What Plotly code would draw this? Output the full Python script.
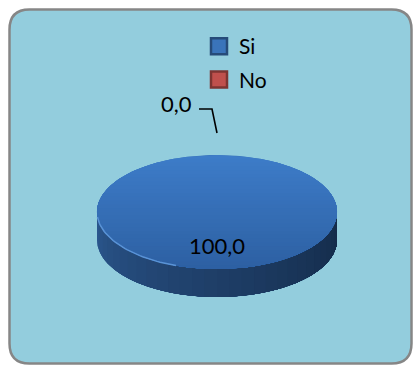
import numpy as np
import plotly.graph_objects as go

# ---- data ----
categories = ["Si", "No"]
values = [100.0, 0.0]
label_texts = ["100,0", "0,0"]
colors_top = ["#3a74ba", "#c0504d"]

W, H = 414, 365
FONT = "Lato, 'Open Sans', sans-serif"

# ellipse geometry (pixel space; y axis reversed)
cx, cy, rx, ry, depth = 217, 212, 120, 57, 28

fig = go.Figure()

def ept(theta_deg, yoff=0.0, scale=1.0):
    t = np.radians(theta_deg)
    return cx + rx * scale * np.sin(t), cy + yoff - ry * scale * np.cos(t)

def mix(c1, c2, f):
    a = [int(c1[i:i + 2], 16) for i in (1, 3, 5)]
    b = [int(c2[i:i + 2], 16) for i in (1, 3, 5)]
    return "#%02x%02x%02x" % tuple(int(round(a[k] + (b[k] - a[k]) * f)) for k in range(3))

total = sum(values)
angles = np.cumsum([0] + [v / total * 360 for v in values])

# side band (front half), gradient left-to-right; overlapping pieces (no seams)
nseg = 30
for i in range(nseg):
    a0 = 270 - 180 * i / nseg
    th = np.linspace(a0, 90, 60)
    xt, yt = ept(th)
    xb, yb = ept(th[::-1], yoff=depth)
    f = i / (nseg - 1)
    col = mix("#2c5890", "#142b49", f ** 0.8)
    fig.add_trace(go.Scatter(x=np.r_[xt, xb], y=np.r_[yt, yb], fill="toself",
                             fillcolor=col, line=dict(width=0),
                             mode="lines", hoverinfo="skip", showlegend=False))

# top face slices
for k, (cat, v) in enumerate(zip(categories, values)):
    if v <= 0:
        continue
    th = np.linspace(angles[k], angles[k + 1], 200)
    xs, ys = ept(th)
    if v < total:
        xs = np.r_[cx, xs, cx]
        ys = np.r_[cy, ys, cy]
    fig.add_trace(go.Scatter(x=xs, y=ys, fill="toself", fillcolor=colors_top[k],
                             line=dict(width=0), mode="lines", hoverinfo="skip",
                             showlegend=False))

# gradient on top face (overlapping strips, each reaching the bottom)
nstrip = 30
for i in range(nstrip):
    y0 = cy - ry + 2 * ry * i / nstrip
    yy = np.linspace(y0, cy + ry, 60)
    half = rx * np.sqrt(np.clip(1 - ((yy - cy) / ry) ** 2, 0, 1))
    xs = np.r_[cx - half, (cx + half)[::-1]]
    ys = np.r_[yy, yy[::-1]]
    f = i / (nstrip - 1)
    col = mix("#3d7cc8", "#2d60a3", f)
    fig.add_trace(go.Scatter(x=xs, y=ys, fill="toself", fillcolor=col,
                             line=dict(width=0), mode="lines",
                             hoverinfo="skip", showlegend=False))

# subtle light rim on the lower-left edge of the top face
th = np.linspace(200, 265, 40)
xr, yr = ept(th)
fig.add_trace(go.Scatter(x=xr, y=yr, mode="lines", line=dict(color="#5a93d6", width=1.5),
                         hoverinfo="skip", showlegend=False))

# data labels
for k, (cat, v) in enumerate(zip(categories, values)):
    mid = (angles[k] + angles[k + 1]) / 2
    if v >= 50:
        lx, ly = ept(mid, scale=0.58)
        fig.add_annotation(x=lx, y=ly, text=label_texts[k], showarrow=False,
                           font=dict(family=FONT, size=22, color="#000000"))
    else:
        ex, ey = ept(mid)
        px_, py_ = ex, ey - 22
        bx, by = ex - 5, ey - 46
        fig.add_trace(go.Scatter(x=[px_, bx, bx - 13], y=[py_, by, by], mode="lines",
                                 line=dict(color="#000000", width=1.6),
                                 hoverinfo="skip", showlegend=False))
        fig.add_annotation(x=bx - 18, y=by - 6, text=label_texts[k], showarrow=False,
                           xanchor="right", font=dict(family=FONT, size=22, color="#000000"))

# legend entries
for k, cat in enumerate(categories):
    fig.add_trace(go.Scatter(x=[None], y=[None], mode="markers", name=cat,
                             legendgroup=cat,
                             marker=dict(symbol="square", size=16, color=colors_top[k],
                                         line=dict(width=2.5, color=mix(colors_top[k], "#000000", 0.35)))))

# rounded frame
x0, y0, x1, y1, r = 9.5, 9.5, 411.5, 363.5, 20
path = (f"M {x0+r},{y0} L {x1-r},{y0} Q {x1},{y0} {x1},{y0+r} L {x1},{y1-r} "
        f"Q {x1},{y1} {x1-r},{y1} L {x0+r},{y1} Q {x0},{y1} {x0},{y1-r} "
        f"L {x0},{y0+r} Q {x0},{y0} {x0+r},{y0} Z")
fig.add_shape(type="path", path=path, fillcolor="#93cddd",
              line=dict(color="#868686", width=2.5), layer="below")

fig.update_layout(
    width=W, height=H, margin=dict(l=0, r=0, t=0, b=0),
    paper_bgcolor="#ffffff", plot_bgcolor="rgba(0,0,0,0)",
    xaxis=dict(range=[0, W], visible=False, fixedrange=True),
    yaxis=dict(range=[H, 0], visible=False, fixedrange=True),
    showlegend=True,
    legend=dict(x=199 / W, y=1 - 26 / H, xanchor="left", yanchor="top",
                bgcolor="rgba(0,0,0,0)", font=dict(family=FONT, size=21, color="#000000"),
                tracegroupgap=3, itemwidth=30),
)

fig.write_html("out.html")
